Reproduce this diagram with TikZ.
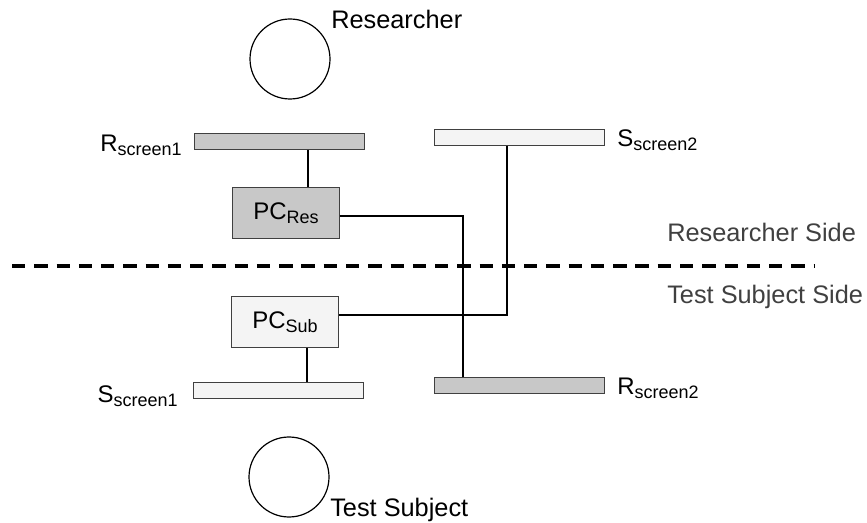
\documentclass[tikz,border=0pt]{standalone}
\usepackage{fontspec}
\setmainfont{Liberation Sans}
\usepackage{xcolor}
\usepackage{tikz}
\usetikzlibrary{positioning}

\definecolor{screengray}{HTML}{C8C8C8}
\definecolor{screenlight}{HTML}{F4F4F4}
\definecolor{sidegray}{HTML}{404040}
\newcommand{\lowsub}[1]{\raisebox{-2.6pt}{\fontsize{13.5}{14}\selectfont #1}}

\begin{document}
\begin{tikzpicture}[x=0.75pt, y=-0.75pt,
    person/.style={circle, draw, line width=0.9pt, minimum size=60pt, inner sep=0pt},
    screen/.style={rectangle, draw=black!75, line width=0.75pt,
                   minimum width=127.5pt, minimum height=12pt, inner sep=0pt},
    pc/.style={rectangle, draw=black!75, line width=0.75pt, minimum width=80pt,
               minimum height=38.5pt, inner sep=0pt, font=\fontsize{18}{20}\selectfont},
    lbl/.style={inner sep=0pt, font=\fontsize{18}{20}\selectfont},
    biglbl/.style={inner sep=0pt, font=\fontsize{19}{22}\selectfont},
    wire/.style={line width=1.7pt},
    divider/.style={line width=2.7pt, dash pattern=on 10pt off 6.7pt}]
  \useasboundingbox (0,0) rectangle (867,523);
  \node[person] (researcher) at (290,59) {};
  \node[biglbl, anchor=base west] (researcherlbl) at (331,29) {Researcher};
  \node[screen, fill=screengray] (rscreena) at (279,142) {};
  \node[lbl, anchor=base east] (rscreenalbl) at (182,152) {R\lowsub{screen1}};
  \node[screen, fill=screenlight] (sscreenb) at (519,138) {};
  \node[lbl, anchor=base west] (sscreenblbl) at (617,147) {S\lowsub{screen2}};
  \node[pc, fill=screengray] (pcres) at (286,213) {PC\lowsub{Res}};
  \node[biglbl, text=sidegray, anchor=base west] (resside) at (667,242) {Researcher Side};
  \node[biglbl, text=sidegray, anchor=base west] (subside) at (667,304) {Test Subject Side};
  \node[pc, fill=screenlight] (pcsub) at (285,322) {PC\lowsub{Sub}};
  \node[screen, fill=screenlight] (sscreena) at (278.5,391) {};
  \node[lbl, anchor=base east] (sscreenalbl) at (178,403) {S\lowsub{screen1}};
  \node[screen, fill=screengray] (rscreenb) at (519,386) {};
  \node[lbl, anchor=base west] (rscreenblbl) at (617,395) {R\lowsub{screen2}};
  \node[person] (subject) at (289,477) {};
  \node[biglbl, anchor=base west] (subjectlbl) at (330,516) {Test Subject};

  \coordinate (divl) at (12,266);
  \coordinate (divr) at (815,266);
  \draw[divider] (divl) -- (divr);

  \coordinate (lnkres) at (308,0);
  \coordinate (lnksub) at (307,0);
  \coordinate (lnkrb) at (463,216);
  \coordinate (lnksb) at (507,315);
  \draw[wire] (rscreena.south -| lnkres) -- (pcres.north -| lnkres);
  \draw[wire] (pcres.east |- lnkrb) -- (lnkrb) -- (rscreenb.north -| lnkrb);
  \draw[wire] (sscreenb.south -| lnksb) -- (lnksb) -- (pcsub.east |- lnksb);
  \draw[wire] (pcsub.south -| lnksub) -- (sscreena.north -| lnksub);
\end{tikzpicture}
\end{document}
